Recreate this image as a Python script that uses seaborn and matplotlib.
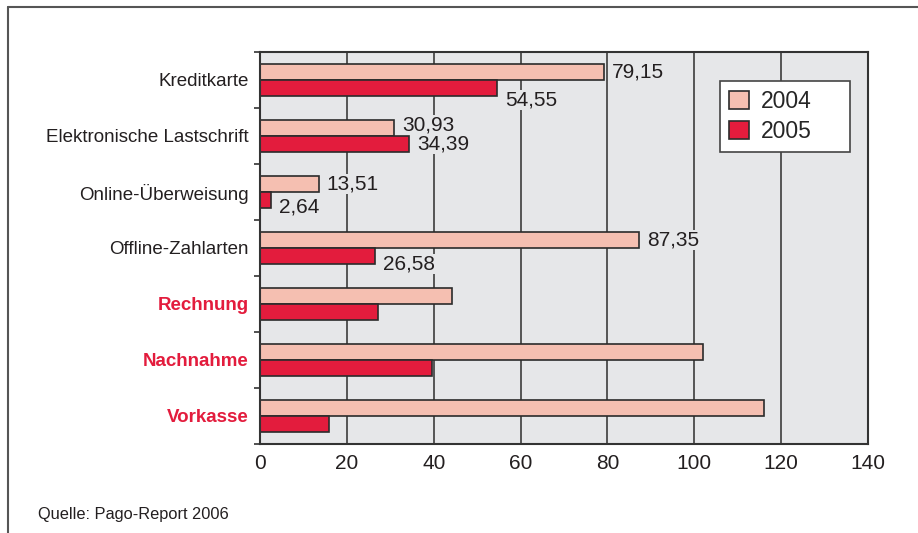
import matplotlib
matplotlib.use("Agg")
import matplotlib.pyplot as plt
from matplotlib.lines import Line2D
from matplotlib.ticker import FixedLocator
import seaborn as sns
import pandas as pd

# data
categories = ["Kreditkarte", "Elektronische Lastschrift", "Online-Überweisung",
              "Offline-Zahlarten", "Rechnung", "Nachnahme", "Vorkasse"]
years = ["2004", "2005"]
values_2004 = [79.15, 30.93, 13.51, 87.35, 44.1, 102.1, 116.1]
values_2005 = [54.55, 34.39, 2.64, 26.58, 27.1, 39.5, 16.0]
labelled = 4  # only the first four categories carry value labels
highlighted = ["Rechnung", "Nachnahme", "Vorkasse"]
x_ticks = [0, 20, 40, 60, 80, 100, 120, 140]
source = "Quelle: Pago-Report 2006"

# vertical label nudges in pixels per year
label_dy = {"2004": [0, 3, 0, 0], "2005": [-12, 0, -7, -8]}

df = pd.DataFrame({
    "category": categories * 2,
    "year": ["2004"] * len(categories) + ["2005"] * len(categories),
    "value": values_2004 + values_2005,
})

sns.set_theme(style="white")
plt.rcParams["font.family"] = ["Liberation Sans", "DejaVu Sans"]

RED = "#E31C3D"
PINK = "#F5BFB1"
BG = "#E6E7E9"
DARK = "#2B2B2B"
TEXT = "#231F20"

fig = plt.figure(figsize=(9.18, 5.33), dpi=100)
ax = fig.add_axes([260 / 918, 1 - 444 / 533, 608 / 918, 392 / 533])
ax.set_facecolor(BG)

sns.barplot(data=df, x="value", y="category", hue="year", hue_order=years,
            palette=[PINK, RED], orient="h", width=0.57, ax=ax,
            edgecolor=DARK, linewidth=1.2, saturation=1)

ax.set_xlim(0, 140)
ax.set_ylim(len(categories) - 0.5, -0.5)
ax.set_xlabel("")
ax.set_ylabel("")
ax.set_axisbelow(True)
ax.xaxis.grid(True, color="#3C3C3C", lw=1.2)
ax.yaxis.grid(False)
for sp in ax.spines.values():
    sp.set_visible(True)
    sp.set_color("#333333")
    sp.set_linewidth(1.5)

ax.set_xticks(x_ticks)
ax.tick_params(axis="x", direction="inout", length=7, width=1.2, colors="#333333",
               labelsize=15, labelcolor=TEXT, pad=4)
ax.tick_params(axis="y", which="major", length=0, pad=8)
ax.yaxis.set_minor_locator(FixedLocator([i - 0.5 for i in range(len(categories) + 1)]))
ax.tick_params(axis="y", which="minor", direction="out", length=4, width=1.2,
               color="#333333", left=True)

for lab in ax.get_yticklabels():
    lab.set_fontsize(13.5)
    if lab.get_text() in highlighted:
        lab.set_color(RED)
        lab.set_fontweight("bold")
    else:
        lab.set_color(TEXT)

# value labels
for year, cont in zip(years, ax.containers):
    for i, bar in enumerate(list(cont)[:labelled]):
        v = bar.get_width()
        yc = bar.get_y() + bar.get_height() / 2
        ax.annotate(f"{v:.2f}".replace(".", ","), xy=(v, yc),
                    xytext=(8, label_dy[year][i]), textcoords="offset pixels",
                    ha="left", va="center", fontsize=15, color=TEXT,
                    bbox=dict(facecolor=BG, edgecolor="none", pad=0.5))

handles, labels = ax.get_legend_handles_labels()
leg = ax.legend(handles, labels, loc="upper left",
                bbox_to_anchor=(460 / 608, 0.926 - 0.05, 130 / 608, 0.05), mode="expand",
                frameon=True, fancybox=False, edgecolor="#444444", facecolor="white",
                framealpha=1, fontsize=16.5, handlelength=0.85, handleheight=0.85,
                handletextpad=0.55, borderpad=0.4, labelspacing=0.3,
                borderaxespad=0)
leg.get_frame().set_linewidth(1.2)

# outer frame (top and left only)
fig.add_artist(Line2D([8 / 918, 8 / 918], [0, 1 - 6.5 / 533], color="#555555", lw=1.5))
fig.add_artist(Line2D([8 / 918, 1], [1 - 6.5 / 533, 1 - 6.5 / 533], color="#555555", lw=1.5))

fig.text(38 / 918, 1 - 515 / 533, source, fontsize=11.8,
         color=TEXT, ha="left", va="center")

fig.savefig("out.png", dpi=100, facecolor="white")
